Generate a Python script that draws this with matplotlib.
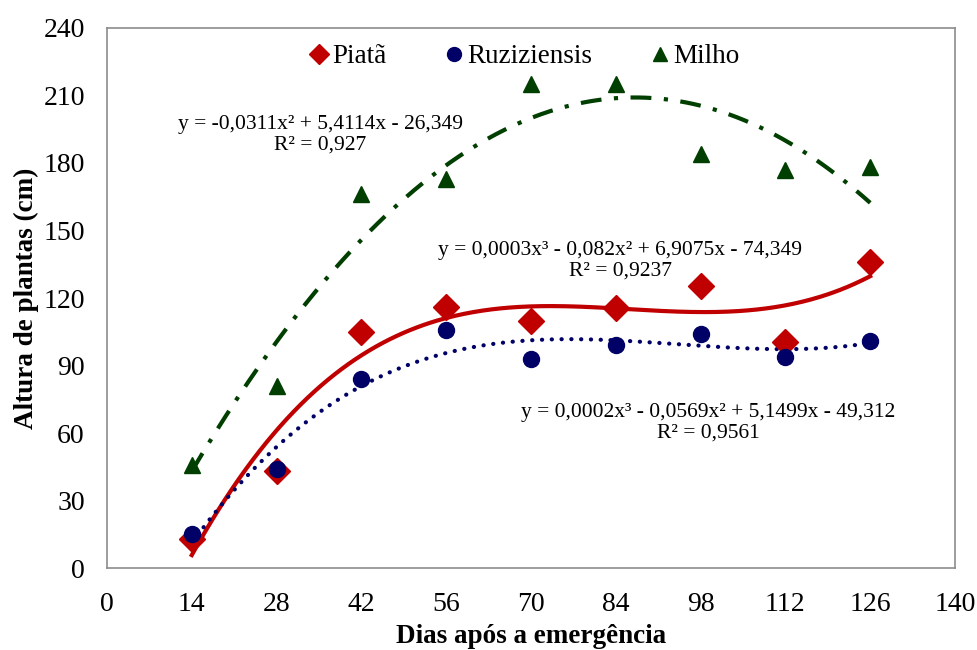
import numpy as np
import matplotlib
matplotlib.use("Agg")
import matplotlib.pyplot as plt
from matplotlib.lines import Line2D

plt.rcParams['font.family'] = ['Liberation Serif', 'DejaVu Serif']

# dias apos a emergencia
dias = [14, 28, 42, 56, 70, 84, 98, 112, 126]
piata = [13, 43, 105, 116, 110, 115.5, 125.5, 100.5, 136]
ruziziensis = [15, 44, 84, 106, 93, 99, 104, 94, 101]
milho = [46, 81, 166, 173, 215, 215, 184, 177, 178]

eq_milho = "y = -0,0311x² + 5,4114x - 26,349\nR² = 0,927"
eq_piata = "y = 0,0003x³ - 0,082x² + 6,9075x - 74,349\nR² = 0,9237"
eq_ruz = "y = 0,0002x³ - 0,0569x² + 5,1499x - 49,312\nR² = 0,9561"

c_red = '#C00000'
c_blue = '#000066'
c_green = '#003F00'

fig = plt.figure(figsize=(9.77, 6.5), dpi=100)
ax = fig.add_axes([0.1095, 0.126, 0.868, 0.831])

X = np.array(dias, dtype=float)
xx = np.linspace(14, 126, 300)

# linhas de tendencia (ajuste polinomial)
p_m = np.polyfit(X, milho, 2)
p_p = np.polyfit(X, piata, 3)
p_r = np.polyfit(X, ruziziensis, 3)

ax.plot(xx, np.polyval(p_m, xx), color=c_green, lw=3, dashes=(5, 3, 1, 3), zorder=2)
ax.plot(xx, np.polyval(p_p, xx), color=c_red, lw=3, zorder=2)
ax.plot(xx, np.polyval(p_r, xx), color=c_blue, lw=3, dashes=(0.05, 2.3),
        dash_capstyle='round', zorder=2)

ax.plot(dias, piata, 'D', color=c_red, ms=13, ls='none', zorder=3)
ax.plot(dias, ruziziensis, 'o', color=c_blue, ms=11.5, ls='none', zorder=4)
ax.plot(dias, milho, '^', color=c_green, ms=12, ls='none', zorder=3)

ax.text(35.2, 192.5, eq_milho, ha='center', va='center', fontsize=15.5, linespacing=1.15)
ax.text(84.7, 136.5, eq_piata, ha='center', va='center', fontsize=15.5, linespacing=1.15)
ax.text(99.2, 64.5, eq_ruz, ha='center', va='center', fontsize=15.5, linespacing=1.15)

handles = [
    Line2D([], [], marker='D', color=c_red, ls='none', ms=10),
    Line2D([], [], marker='o', color=c_blue, ls='none', ms=10),
    Line2D([], [], marker='^', color=c_green, ls='none', ms=10),
]
ax.legend(handles, ['Piatã', 'Ruziziensis', 'Milho'], loc='upper center',
          bbox_to_anchor=(0.49, 1.015), ncol=3, frameon=False, fontsize=19.5,
          handletextpad=0.0, columnspacing=2.0, handlelength=1.0)

ax.set_xlim(0, 140)
ax.set_ylim(0, 240)
ax.set_xticks(np.arange(0, 141, 14))
ax.set_yticks(np.arange(0, 241, 30))
ax.tick_params(length=0, labelsize=20)
ax.tick_params(axis='y', pad=16)
ax.tick_params(axis='x', pad=17)
for s in ax.spines.values():
    s.set_color('#8C8C8C')
    s.set_linewidth(1.2)

ax.set_xlabel('Dias após a emergência', fontsize=19.5, fontweight='bold', labelpad=5)
ax.set_ylabel('Altura de plantas (cm)', fontsize=19.5, fontweight='bold', labelpad=3)

fig.savefig('out.png', dpi=100)
